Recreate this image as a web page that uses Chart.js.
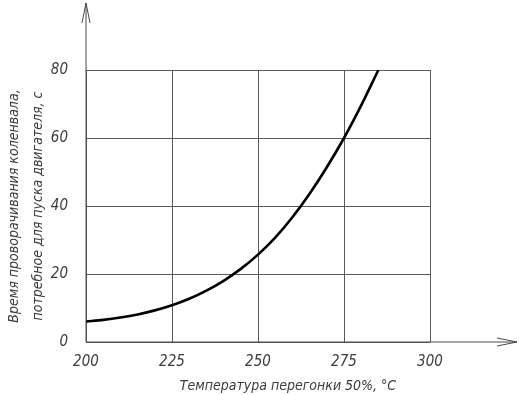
<!DOCTYPE html>
<html>
<head>
<meta charset="utf-8">
<script src="https://cdn.jsdelivr.net/npm/chart.js@4/dist/chart.umd.min.js"></script>
<style>
html,body{margin:0;padding:0;background:#fff;}
#wrap{width:519px;height:395px;position:relative;}
</style>
</head>
<body>
<div id="wrap"><canvas id="c" width="519" height="395"></canvas></div>
<script>
// Data
const temperatures = [200, 205, 210, 215, 220, 225, 230, 235, 240, 245, 250, 255, 260, 265, 270, 275, 280, 285];
const crankTimes   = [6.0, 6.5, 7.2, 8.1, 9.3, 10.8, 12.7, 15.1, 18.0, 21.5, 25.7, 30.7, 36.7, 43.6, 51.4, 60.0, 69.6, 80.0];
const xTickValues = [200, 225, 250, 275, 300];
const yTickValues = [0, 20, 40, 60, 80];
const xTitle = 'Температура перегонки 50%, °С';
const yTitle = ['Время проворачивания коленвала,', 'потребное для пуска двигателя, с'];

const FONT = "'Liberation Sans Narrow','DejaVu Sans Condensed','DejaVu Sans',sans-serif";
const TXT = '#3c3c3c';
const GRID = '#5a5a5a';

const axisDecor = {
  id: 'axisDecor',
  afterDraw(chart) {
    const {ctx, scales:{x, y}} = chart;
    const x0 = x.getPixelForValue(200), y0 = y.getPixelForValue(0);
    const xEnd = 517, yEnd = 3;
    ctx.save();
    ctx.strokeStyle = '#4a4a4a';
    ctx.lineWidth = 1;
    ctx.beginPath();
    ctx.moveTo(x0, y0); ctx.lineTo(xEnd, y0);
    ctx.moveTo(x0, y0); ctx.lineTo(x0, yEnd);
    ctx.moveTo(xEnd - 20, y0 - 4); ctx.lineTo(xEnd, y0); ctx.lineTo(xEnd - 20, y0 + 4);
    ctx.moveTo(x0 - 4, yEnd + 20); ctx.lineTo(x0, yEnd); ctx.lineTo(x0 + 4, yEnd + 20);
    ctx.stroke();
    // x axis title, centred under the extended axis as in the reference
    ctx.fillStyle = TXT;
    ctx.font = "italic 14px " + FONT;
    ctx.textAlign = 'center';
    ctx.textBaseline = 'middle';
    ctx.fillText(xTitle, (x0 + x.getPixelForValue(300)) / 2 + 30, 386);
    ctx.restore();
  }
};

new Chart(document.getElementById('c'), {
  type: 'line',
  data: {
    datasets: [{
      data: temperatures.map((t, i) => ({x: t, y: crankTimes[i]})),
      borderColor: '#000',
      borderWidth: 2.6,
      pointRadius: 0,
      cubicInterpolationMode: 'monotone',
      fill: false
    }]
  },
  options: {
    responsive: false,
    animation: false,
    layout: {padding: {top: 70, right: 89, left: 0, bottom: 0}},
    plugins: {legend: {display: false}, tooltip: {enabled: false}},
    scales: {
      x: {
        type: 'linear', min: 200, max: 300,
        afterBuildTicks: s => { s.ticks = xTickValues.map(v => ({value: v})); },
        afterFit: s => { s.height = 53; },
        ticks: {padding: 11, color: TXT, font: {family: FONT, size: 15, style: 'italic'}},
        grid: {color: GRID, lineWidth: 1, drawTicks: false},
        border: {display: false},
        title: {display: false}
      },
      y: {
        type: 'linear', min: 0, max: 80,
        afterBuildTicks: s => { s.ticks = yTickValues.map(v => ({value: v})); },
        afterFit: s => { s.width = 86; },
        ticks: {padding: 18, color: TXT, font: {family: FONT, size: 15, style: 'italic'}},
        grid: {color: GRID, lineWidth: 1, drawTicks: false},
        border: {display: false},
        title: {display: true, text: yTitle, color: TXT, padding: {top: 2, bottom: 0},
                font: {family: FONT, size: 14, style: 'italic', lineHeight: 1.75}}
      }
    }
  },
  plugins: [axisDecor]
});
</script>
</body>
</html>
